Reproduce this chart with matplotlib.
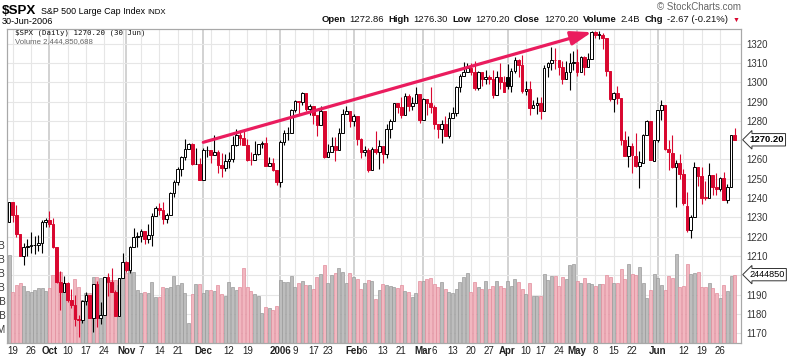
import matplotlib
matplotlib.use("Agg")
import matplotlib.pyplot as plt
import matplotlib.transforms as mtransforms
from matplotlib.offsetbox import TextArea, HPacker, AnnotationBbox
import numpy as np
import pandas as pd

plt.rcParams["font.family"] = ["Liberation Sans", "DejaVu Sans"]

# trading calendar, 16-Sep-2005 .. 30-Jun-2006
HOLIDAYS = ["2005-11-24", "2005-12-26", "2006-01-02", "2006-01-16",
            "2006-02-20", "2006-04-14", "2006-05-29"]

OPENS = [
    1227.73, 1237.91, 1231.02, 1221.34, 1210.20, 1214.62, 1215.29, 1215.63, 1215.66, 1216.89, 1227.68,
    1228.81, 1226.70, 1214.47, 1196.39, 1191.49, 1195.90, 1187.33, 1184.87, 1177.68, 1176.84, 1186.57,
    1190.10, 1178.14, 1195.76, 1177.80, 1179.59, 1199.38, 1196.54, 1191.38, 1178.90, 1198.41,
    1207.01, 1202.76, 1214.76, 1219.94, 1220.14, 1222.81, 1218.59, 1220.65, 1230.96, 1234.72, 1233.76,
    1229.01, 1231.21, 1242.80, 1248.27, 1254.85, 1261.23, 1265.61, 1268.25, 1257.46, 1257.48,
    1249.48, 1264.67, 1265.08, 1262.09, 1263.70, 1257.37, 1255.84, 1259.37, 1260.43, 1267.43, 1272.74,
    1270.94, 1267.32, 1259.92, 1259.62, 1262.79, 1268.12, 1268.66, 1256.54, 1258.17, 1254.42,
    1248.29, 1268.80, 1273.46, 1273.48, 1285.45, 1290.15, 1289.72, 1294.18, 1286.06, 1287.61,
    1282.93, 1277.93, 1285.04, 1261.49, 1263.82, 1266.86, 1264.68, 1273.83, 1283.72, 1285.20,
    1280.08, 1282.46, 1270.84, 1264.03, 1265.02, 1254.78, 1265.65, 1263.82, 1266.99, 1262.86,
    1275.53, 1280.00, 1289.38, 1287.24, 1283.03, 1292.67, 1287.79, 1289.43, 1294.12,
    1280.66, 1291.24, 1289.14, 1287.23, 1278.26, 1275.88, 1278.47, 1272.23, 1281.58, 1284.13, 1297.48,
    1303.02, 1305.33, 1307.25, 1305.08, 1297.23, 1305.04, 1301.67, 1302.95, 1301.61, 1293.23, 1302.89, 1300.25,
    1302.88, 1297.81, 1305.93, 1311.56, 1309.04, 1295.51, 1296.60, 1286.57, 1288.12, 1289.12,
    1285.33, 1307.65, 1309.93, 1311.46, 1311.28, 1308.11, 1301.74, 1305.41, 1309.72,
    1310.61, 1305.19, 1313.21, 1307.85, 1312.25, 1325.76, 1324.66, 1324.57, 1322.63, 1305.88, 1291.19,
    1294.50, 1291.73, 1270.25, 1261.81, 1267.03, 1262.06, 1256.56, 1258.41, 1272.71, 1280.04, 1259.38,
    1270.05, 1285.71, 1288.16, 1265.23, 1263.61, 1256.08, 1257.93, 1252.27, 1236.08, 1223.66, 1230.01,
    1256.16, 1251.54, 1240.12, 1240.09, 1251.92, 1245.59, 1244.50, 1250.55, 1238.99, 1245.94, 1272.86,
]

HIGHS = [
    1237.95, 1237.91, 1236.49, 1221.52, 1216.64, 1218.83, 1222.56, 1220.17, 1220.98, 1228.70, 1229.57,
    1233.34, 1229.88, 1214.47, 1202.14, 1199.71, 1196.52, 1193.10, 1190.02, 1179.56, 1187.13, 1191.21,
    1190.10, 1195.76, 1197.30, 1186.46, 1199.39, 1201.30, 1204.01, 1192.65, 1198.41, 1211.43,
    1207.34, 1215.17, 1224.70, 1222.52, 1224.18, 1222.81, 1226.59, 1232.41, 1235.70, 1237.54, 1237.94,
    1232.24, 1242.96, 1249.58, 1255.89, 1261.90, 1270.64, 1268.78, 1268.44, 1266.18, 1260.93,
    1266.17, 1266.85, 1265.08, 1272.89, 1264.85, 1263.36, 1263.08, 1263.86, 1272.11, 1275.80, 1275.17,
    1275.24, 1270.51, 1263.86, 1269.37, 1268.19, 1269.76, 1271.83, 1261.10, 1260.61, 1254.42,
    1270.22, 1275.37, 1276.91, 1286.09, 1290.78, 1290.15, 1294.90, 1294.18, 1288.96, 1287.61,
    1282.93, 1287.79, 1285.04, 1268.19, 1271.47, 1271.87, 1276.44, 1286.38, 1287.94, 1285.20,
    1283.33, 1282.46, 1270.87, 1267.04, 1265.78, 1266.47, 1274.56, 1269.89, 1266.99, 1278.21,
    1281.00, 1289.39, 1289.47, 1292.11, 1294.17, 1293.84, 1292.11, 1297.57, 1294.12,
    1291.80, 1291.24, 1297.33, 1288.23, 1278.26, 1280.33, 1282.74, 1284.37, 1287.37, 1298.14, 1304.40,
    1310.45, 1309.79, 1310.00, 1310.88, 1305.97, 1305.04, 1306.53, 1303.74, 1306.24, 1305.60, 1310.15, 1303.00,
    1309.19, 1307.55, 1312.81, 1311.99, 1314.07, 1300.74, 1300.71, 1290.93, 1292.09, 1292.45,
    1309.02, 1310.39, 1318.16, 1317.67, 1311.28, 1310.79, 1310.97, 1315.00, 1316.04,
    1317.21, 1313.66, 1313.47, 1315.14, 1326.53, 1326.70, 1326.60, 1325.51, 1322.63, 1305.92, 1294.81,
    1297.88, 1291.73, 1274.89, 1272.15, 1268.77, 1273.67, 1264.53, 1273.26, 1280.54, 1280.04, 1270.09,
    1285.71, 1290.68, 1288.16, 1269.88, 1272.47, 1259.85, 1262.58, 1255.22, 1243.37, 1231.46, 1258.64,
    1256.27, 1255.93, 1249.01, 1257.96, 1251.92, 1253.13, 1250.92, 1253.37, 1247.06, 1272.88, 1276.30,
]

LOWS = [
    1227.65, 1227.65, 1220.07, 1209.89, 1205.35, 1209.80, 1211.84, 1211.11, 1212.72, 1211.54, 1225.22,
    1225.15, 1214.02, 1196.25, 1181.92, 1191.46, 1186.12, 1183.16, 1173.65, 1168.20, 1175.44, 1184.48,
    1178.13, 1170.55, 1173.30, 1174.92, 1179.59, 1189.29, 1191.38, 1178.89, 1178.90, 1198.41,
    1201.66, 1201.07, 1214.76, 1214.45, 1217.29, 1216.08, 1216.53, 1215.05, 1230.72, 1231.50, 1226.41,
    1227.18, 1231.21, 1240.71, 1246.90, 1251.40, 1259.51, 1265.54, 1257.17, 1257.46, 1249.39,
    1249.48, 1261.42, 1258.12, 1262.09, 1253.02, 1250.91, 1254.24, 1255.52, 1258.56, 1267.07, 1267.74,
    1267.32, 1259.28, 1257.21, 1259.62, 1262.50, 1265.92, 1256.54, 1256.54, 1254.18, 1246.59,
    1245.74, 1267.74, 1270.30, 1273.48, 1284.82, 1283.76, 1288.12, 1285.04, 1282.78, 1278.61,
    1272.08, 1277.93, 1260.92, 1261.49, 1263.82, 1259.42, 1264.68, 1273.83, 1283.51, 1276.85,
    1277.57, 1267.72, 1261.02, 1261.62, 1253.61, 1254.78, 1262.80, 1254.98, 1258.34, 1260.80,
    1271.06, 1280.00, 1284.07, 1281.33, 1283.03, 1285.14, 1285.62, 1289.43, 1278.66,
    1280.66, 1283.21, 1284.20, 1275.67, 1271.11, 1268.42, 1272.23, 1271.11, 1281.58, 1282.67, 1294.97,
    1303.02, 1305.32, 1303.59, 1295.82, 1295.81, 1298.11, 1298.89, 1299.09, 1291.84, 1293.23, 1296.72, 1294.87,
    1296.65, 1294.71, 1304.82, 1302.44, 1294.18, 1293.17, 1282.96, 1286.45, 1283.37, 1280.74,
    1285.33, 1302.79, 1306.38, 1306.59, 1303.79, 1299.17, 1301.74, 1295.80, 1306.16,
    1303.46, 1305.19, 1303.92, 1307.85, 1312.25, 1322.87, 1322.48, 1317.44, 1303.45, 1290.38, 1284.51,
    1288.51, 1267.31, 1261.75, 1256.28, 1252.98, 1256.15, 1245.34, 1258.41, 1272.50, 1259.87, 1259.38,
    1269.19, 1280.22, 1264.66, 1254.46, 1255.77, 1235.18, 1250.03, 1236.43, 1222.52, 1219.29, 1230.01,
    1246.33, 1237.17, 1238.87, 1240.09, 1241.53, 1241.43, 1243.68, 1238.94, 1237.59, 1245.94, 1270.20,
]

CLOSES = [
    1237.91, 1231.02, 1221.34, 1210.20, 1214.62, 1215.29, 1215.63, 1215.66, 1216.89, 1227.68, 1228.81,
    1226.70, 1214.47, 1196.39, 1191.49, 1195.90, 1187.33, 1184.87, 1177.68, 1176.84, 1186.57, 1190.10,
    1178.14, 1195.76, 1177.80, 1179.59, 1199.38, 1196.54, 1191.38, 1178.90, 1198.41, 1207.01,
    1202.76, 1214.76, 1219.94, 1220.14, 1222.81, 1218.59, 1220.65, 1230.96, 1234.72, 1233.76, 1229.01,
    1231.21, 1242.80, 1248.27, 1254.85, 1261.23, 1265.61, 1268.25, 1257.46, 1257.48, 1249.48,
    1264.67, 1265.08, 1262.09, 1263.70, 1257.37, 1255.84, 1259.37, 1260.43, 1267.43, 1272.74, 1270.94,
    1267.32, 1259.92, 1259.62, 1262.79, 1268.12, 1268.66, 1256.54, 1258.17, 1254.42, 1248.29,
    1268.80, 1273.46, 1273.48, 1285.45, 1290.15, 1289.69, 1294.18, 1286.06, 1287.61, 1282.93,
    1277.93, 1285.04, 1261.49, 1263.82, 1266.86, 1264.68, 1273.83, 1283.72, 1285.19, 1280.08,
    1282.46, 1270.84, 1264.03, 1265.02, 1254.78, 1265.65, 1263.78, 1266.99, 1262.86, 1275.53,
    1280.00, 1289.38, 1287.24, 1283.03, 1292.67, 1287.79, 1289.43, 1294.12, 1280.66,
    1291.24, 1289.14, 1287.23, 1278.26, 1275.88, 1278.47, 1272.23, 1281.42, 1284.13, 1297.48, 1303.02,
    1305.33, 1307.25, 1305.08, 1297.23, 1305.04, 1301.67, 1302.95, 1301.61, 1293.23, 1302.89, 1300.25, 1294.87,
    1297.81, 1305.93, 1311.56, 1309.04, 1295.50, 1296.62, 1286.57, 1288.12, 1289.12, 1285.33,
    1307.28, 1309.93, 1311.46, 1311.28, 1308.11, 1301.74, 1305.41, 1309.72, 1310.61,
    1305.19, 1313.21, 1307.85, 1312.25, 1325.76, 1324.66, 1325.14, 1322.85, 1305.92, 1291.24, 1294.50,
    1292.08, 1270.32, 1261.81, 1267.03, 1262.07, 1256.58, 1258.57, 1272.88, 1280.16, 1259.87, 1270.09,
    1285.71, 1288.22, 1265.29, 1263.85, 1256.15, 1257.93, 1252.30, 1237.44, 1223.69, 1230.04, 1256.16,
    1251.54, 1240.13, 1240.12, 1252.20, 1245.60, 1244.50, 1250.56, 1239.20, 1246.00, 1272.87, 1270.20,
]

# volume in billions of shares
VOLUMES = [
    3.14, 1.81, 2.07, 2.13, 2.05, 1.87, 1.82, 1.89, 1.95, 1.98, 1.87, 1.95, 2.43, 2.43, 2.55, 2.13,
    2.05, 1.54, 2.27, 2.01, 1.54, 1.77, 1.77, 2.37, 2.37, 2.31, 2.27, 2.13, 2.25, 2.25, 2.07, 2.31,
    2.49, 2.67, 2.55, 1.89, 1.77, 1.83, 1.77, 2.19, 1.65, 1.65, 2.01, 1.95, 2.01, 2.39, 2.07, 2.13,
    1.77, 0.73,
    1.75, 2.10, 2.10, 1.77, 1.89, 1.89, 1.86, 2.06, 1.75, 1.68, 2.19, 2.01, 1.89, 1.99, 2.67, 1.99,
    1.87, 1.75, 1.68, 1.06, 1.27, 1.24, 1.18, 1.32, 2.25, 2.18, 2.18, 2.39, 2.01, 2.15, 2.21, 2.08,
    2.08, 1.92, 2.35, 2.46, 2.79, 2.13, 2.43, 2.49, 2.67, 2.52, 2.13, 2.49, 2.37, 2.29, 1.93, 2.15,
    2.25, 2.21, 1.56,
    1.89, 2.10, 2.07,
    2.05, 2.01, 1.98, 2.06, 1.87, 1.83, 1.65, 1.77, 2.23, 2.23, 2.29, 2.31, 2.10, 2.01, 2.19, 1.92,
    1.83, 1.77, 1.92, 2.19, 2.37, 2.51, 1.83, 2.19, 2.01, 1.92, 2.21, 1.92, 2.04, 2.21, 2.04, 1.95,
    2.21, 2.04, 2.29, 2.19, 1.92, 1.75, 2.13, 1.68, 1.69, 1.68, 2.45, 2.25, 2.40, 2.40, 2.05, 2.35,
    2.27, 2.79, 2.82, 2.23, 2.15, 2.31, 2.15, 2.11, 2.04, 2.10,
    2.10, 2.42, 2.36, 2.13, 2.13, 2.64, 2.29, 2.83, 2.45, 2.42, 2.70, 2.15, 1.62, 1.89, 2.45, 2.33,
    2.07, 1.89, 2.39, 2.33, 3.18, 2.01, 2.04, 2.81, 2.46, 2.51, 2.55, 2.01, 2.01, 2.13, 1.95, 1.77,
    1.62, 2.07, 1.87, 2.39, 2.44,
]

# week / month gridlines and their labels (empty label = gridline only)
TICK_DATES = [
    "2005-09-19", "2005-09-26", "2005-10-03", "2005-10-10", "2005-10-17", "2005-10-24",
    "2005-10-31", "2005-11-01", "2005-11-07", "2005-11-14", "2005-11-21", "2005-11-28",
    "2005-12-01", "2005-12-05", "2005-12-12", "2005-12-19", "2005-12-27", "2006-01-03",
    "2006-01-09", "2006-01-17", "2006-01-23", "2006-01-30", "2006-02-01", "2006-02-06",
    "2006-02-13", "2006-02-21", "2006-02-27", "2006-03-01", "2006-03-06", "2006-03-13",
    "2006-03-20", "2006-03-27", "2006-04-03", "2006-04-10", "2006-04-17", "2006-04-24",
    "2006-05-01", "2006-05-08", "2006-05-15", "2006-05-22", "2006-05-30", "2006-06-01",
    "2006-06-05", "2006-06-12", "2006-06-19", "2006-06-26",
]
TICK_LABELS = [
    "19", "26", "Oct", "10", "17", "24",
    "", "Nov", "7", "14", "21", "",
    "Dec", "", "12", "19", "", "2006",
    "9", "17", "23", "", "Feb", "6",
    "13", "21", "", "Mar", "6", "13",
    "20", "27", "Apr", "10", "17", "24",
    "May", "8", "15", "22", "", "Jun",
    "", "12", "19", "26",
]
MONTH_LABELS = {"Oct", "Nov", "Dec", "2006", "Feb", "Mar", "Apr", "May", "Jun"}

PRICE_TICKS = list(range(1170, 1330, 10))
HIDDEN_PRICE_LABELS = {1200, 1270}   # covered by the last-value tags
VOL_TICKS = [0.5, 1.0, 1.5, 2.0, 2.5, 3.0, 3.5]
VOL_TICK_LABELS = ["500M", "1.0B", "1.5B", "2.0B", "2.5B", "3.0B", "3.5B"]
LAST_VOLUME = "2444850"

# hand drawn trend arrow (Dec 1 -> May 5)
TREND_START = ("2005-12-01", 1268.9)
TREND_END = ("2006-05-05", 1325.9)

RED = "#d9072f"
ARROW = "#ea1c5e"
PINK_FILL, PINK_EDGE = "#f1b7c0", "#e28d9c"
GRAY_FILL, GRAY_EDGE = "#bdbdbd", "#9a9a9a"
GRID, GRID_MONTH = "#e6e6e6", "#c6c6c6"


def trading_days():
    days = pd.bdate_range("2005-09-16", "2006-06-30")
    return days[~days.isin(pd.to_datetime(HOLIDAYS))]


def main():
    dates = trading_days()
    pos = {d.strftime("%Y-%m-%d"): i for i, d in enumerate(dates)}
    x = np.arange(len(dates))
    o, h, l, c = (np.array(a) for a in (OPENS, HIGHS, LOWS, CLOSES))
    vol = np.array(VOLUMES)
    prev = np.concatenate([[o[0]], c[:-1]])
    up = c >= prev

    fig = plt.figure(figsize=(8, 3.57), dpi=100)
    W, H = 800, 357
    ax_vol = fig.add_axes([7 / W, (H - 343) / H, 734 / W, (343 - 28.7) / H])
    ax = ax_vol.twinx()

    xlim = (-0.55, 199.7)
    ax_vol.set_xlim(*xlim)
    ax_vol.set_ylim(0, 11.22)
    ax.set_ylim(1165.0, 1327.7)

    # gridlines (drawn in the bottom axes so they sit behind the volume bars)
    tick_x = [pos[d] for d in TICK_DATES]
    for tx, lab in zip(tick_x, TICK_LABELS):
        month = lab in MONTH_LABELS
        ax_vol.axvline(tx, color=GRID_MONTH if month else GRID, lw=1.1 if month else 0.8, zorder=0)
    hbt = mtransforms.blended_transform_factory(ax_vol.transAxes, ax.transData)
    for p in PRICE_TICKS:
        ax_vol.plot([0, 1], [p, p], transform=hbt, color=GRID, lw=0.8, zorder=0)

    # volume
    ax_vol.bar(x, vol, width=0.82, color=np.where(up, GRAY_FILL, PINK_FILL),
               edgecolor=np.where(up, GRAY_EDGE, PINK_EDGE), linewidth=0.5, zorder=1)

    # candles
    edge = np.where(up, "black", RED)
    hollow = c >= o
    face = np.where(hollow, "white", edge)
    ax.vlines(x, l, h, colors=edge, linewidth=0.8, zorder=2)
    body = np.maximum(np.abs(c - o), 0.35)
    ax.bar(x, body, bottom=np.minimum(o, c), width=0.72, color=face,
           edgecolor=edge, linewidth=0.7, zorder=3)

    ax.annotate("", xy=(pos[TREND_END[0]], TREND_END[1]),
                xytext=(pos[TREND_START[0]], TREND_START[1]),
                arrowprops=dict(arrowstyle="-|>,head_length=1.25,head_width=0.42",
                                color=ARROW, lw=2.3, shrinkA=0, shrinkB=0), zorder=5)

    # axes styling
    ax.set_xlim(*xlim)
    ax.set_yticks(PRICE_TICKS)
    ax.set_yticklabels(["" if p in HIDDEN_PRICE_LABELS else str(p) for p in PRICE_TICKS])
    ax.tick_params(axis="y", length=0, pad=4, labelsize=6.9, labelcolor="#333333")
    ax_vol.set_yticks(VOL_TICKS)
    ax_vol.set_yticklabels(VOL_TICK_LABELS)
    ax_vol.tick_params(axis="y", length=0, pad=1, labelsize=7, labelcolor="#333333")
    ax_vol.set_xticks(tick_x)
    ax_vol.set_xticklabels(TICK_LABELS)
    ax_vol.tick_params(axis="x", length=0, pad=2.5, labelsize=7, labelcolor="#222222")
    for t in ax_vol.get_xticklabels():
        if t.get_text() in MONTH_LABELS:
            t.set_fontweight("bold")
    ax.tick_params(axis="x", length=0, labelbottom=False)
    for a in (ax, ax_vol):
        for s in a.spines.values():
            s.set_color("#a8a8a8")
            s.set_linewidth(0.8)

    # last value tags on the right edge (both in the top axes so they cover tick labels)
    tag = dict(boxstyle="larrow,pad=0.18", fc="white", ec="#333333", lw=0.7)
    ax.annotate(f"{c[-1]:.2f}", xy=(1, c[-1]), xycoords=("axes fraction", "data"),
                xytext=(6, 0), textcoords="offset points", ha="left", va="center",
                fontsize=6.8, fontweight="bold", annotation_clip=False, bbox=tag, zorder=10)
    vol_tr = mtransforms.blended_transform_factory(ax.transAxes, ax_vol.transData)
    ax.annotate(LAST_VOLUME, xy=(1, vol[-1]), xycoords=vol_tr,
                xytext=(6, 0), textcoords="offset points", ha="left", va="center",
                fontsize=6.6, annotation_clip=False, bbox=tag, zorder=10)

    # in-chart legend text
    ax.text(8 / 734, 1 - (33 - 28.7) / 314.3, "$SPX (Daily) 1270.20 (30 Jun)",
            transform=ax.transAxes, family="DejaVu Sans Mono", fontsize=5.4,
            va="center", ha="left", color="#111111")
    ax.text(8 / 734, 1 - (41.5 - 28.7) / 314.3, "Volume 2,444,850,688",
            transform=ax.transAxes, fontsize=5.6, va="center", ha="left", color="#666666")

    # header
    fig.text(2 / W, 1 - 14.5 / H, "$SPX", fontsize=9.6, fontweight="bold", va="baseline")
    fig.text(41 / W, 1 - 14.5 / H, "S&P 500 Large Cap Index", fontsize=6.4, va="baseline")
    fig.text(147 / W, 1 - 14.5 / H, "INDX", fontsize=5.6, va="baseline")
    fig.text(2 / W, 1 - 23.5 / H, "30-Jun-2006", fontsize=6.6, va="baseline")
    fig.text(741 / W, 1 - 10 / H, "\u00a9 StockCharts.com", fontsize=7, va="baseline",
             ha="right", color="#666666")

    pieces = [("Open", True), ("1272.86", False), ("High", True), ("1276.30", False),
              ("Low", True), ("1270.20", False), ("Close", True), ("1270.20", False),
              ("Volume", True), ("2.4B", False), ("Chg", True), ("-2.67 (-0.21%)", False)]
    areas = []
    for txt, bold in pieces:
        areas.append(TextArea(txt, textprops=dict(fontsize=6.8, fontweight="bold" if bold else "normal",
                                                  color="#111111")))
    areas.append(TextArea("\u25bc", textprops=dict(fontsize=5, color=RED)))
    box = HPacker(children=areas, align="baseline", pad=0, sep=3.0)
    ab = AnnotationBbox(box, (739 / W, 1 - 19.5 / H), xycoords="figure fraction",
                        box_alignment=(1, 0.5), frameon=False, pad=0)
    fig.add_artist(ab)

    fig.savefig("out.png", dpi=100)
    plt.close(fig)


if __name__ == "__main__":
    main()
